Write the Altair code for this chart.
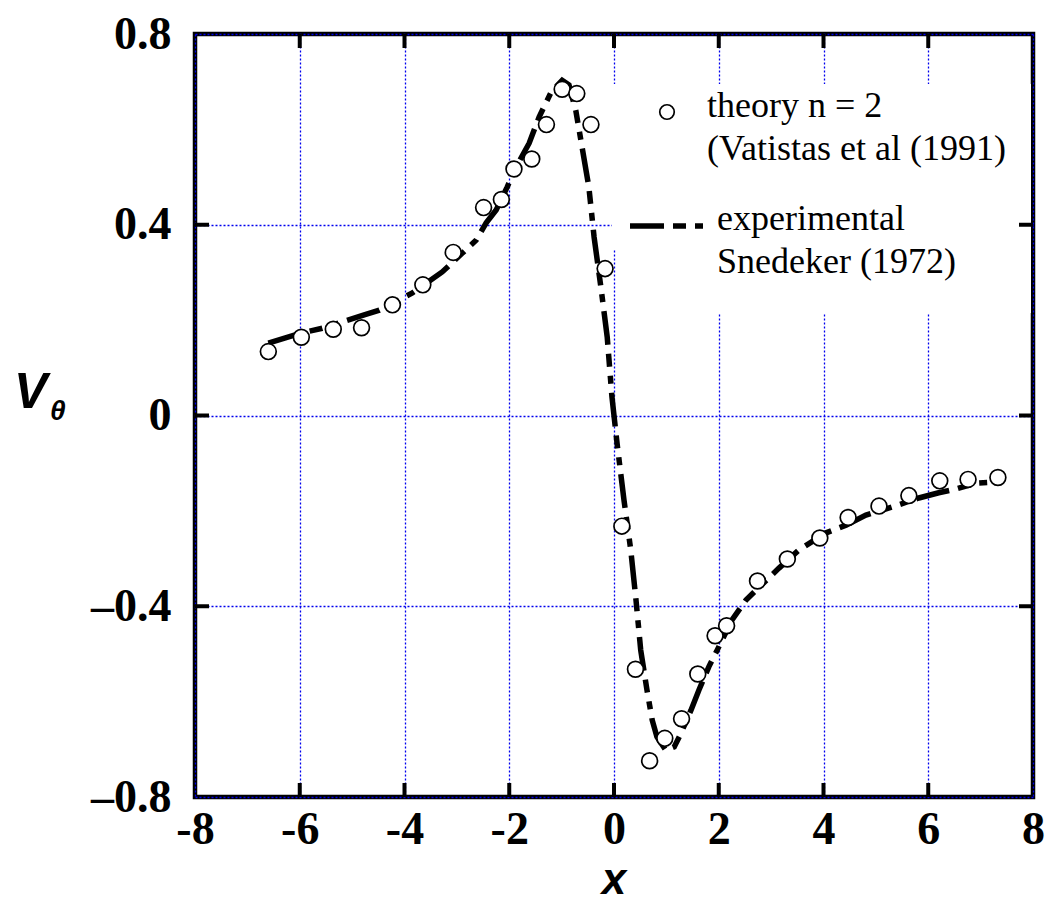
import altair as alt
import pandas as pd

# --- data -------------------------------------------------------------------
theory_x = [-6.60, -5.97, -5.36, -4.82, -4.23, -3.65, -3.07, -2.49, -2.15, -1.91,
            -1.57, -1.29, -0.99, -0.71, -0.44, -0.17, 0.15, 0.41, 0.68, 0.97,
            1.29, 1.60, 1.93, 2.15, 2.74, 3.31, 3.93, 4.47, 5.06, 5.63,
            6.22, 6.76, 7.33]
theory_y = [0.134, 0.164, 0.181, 0.184, 0.232, 0.274, 0.342, 0.436, 0.453, 0.517,
            0.538, 0.610, 0.684, 0.675, 0.610, 0.308, -0.232, -0.532, -0.724, -0.677,
            -0.636, -0.542, -0.462, -0.441, -0.347, -0.301, -0.257, -0.214, -0.190, -0.168,
            -0.137, -0.134, -0.130]

exp_x = [-6.60, -5.97, -5.57, -4.77, -4.48, -3.85, -3.28, -2.90, -2.63, -2.44,
         -2.25, -2.04, -1.87, -1.62, -1.43, -1.20, -0.99, -0.86, -0.73, -0.61,
         -0.48, -0.38, -0.25, -0.13, -0.04, 0.06, 0.19, 0.32, 0.42, 0.51,
         0.63, 0.73, 0.82, 0.99, 1.15, 1.28, 1.47, 1.62, 1.81, 1.97,
         2.25, 2.52, 2.77, 3.15, 3.53, 4.05, 4.43, 4.81, 5.31, 5.82,
         6.20, 6.53, 6.91, 7.35]
exp_y = [0.152, 0.173, 0.183, 0.211, 0.221, 0.257, 0.301, 0.340, 0.368, 0.404,
         0.431, 0.479, 0.521, 0.571, 0.626, 0.678, 0.703, 0.693, 0.640, 0.563,
         0.479, 0.374, 0.269, 0.165, 0.040, -0.060, -0.177, -0.282, -0.387, -0.492,
         -0.576, -0.639, -0.674, -0.702, -0.695, -0.666, -0.618, -0.576, -0.527, -0.492,
         -0.429, -0.387, -0.360, -0.320, -0.282, -0.246, -0.230, -0.209, -0.192, -0.173,
         -0.162, -0.154, -0.142, -0.139]

x_ticks = [-8, -6, -4, -2, 0, 2, 4, 6, 8]
y_ticks = [-0.8, -0.4, 0, 0.4, 0.8]
x_inner = [-6, -4, -2, 0, 2, 4, 6]
y_inner = [-0.4, 0, 0.4]

legend_theory = ["theory n = 2", "(Vatistas et al (1991)"]
legend_exp = ["experimental", "Snedeker (1972)"]

# --- layout -----------------------------------------------------------------
W, H = 838, 763
TICK = 14
SERIF = "Liberation Serif"
SANS = "Liberation Sans"
GRID = "#0000ee"

xs = alt.Scale(domain=[-8, 8], nice=False, zero=False)
ys = alt.Scale(domain=[-0.8, 0.8], nice=False, zero=False)

x_axis = alt.Axis(values=x_ticks, title=None, domain=False, ticks=False,
                  labelFont=SERIF, labelFontWeight="bold", labelFontSize=46,
                  labelColor="black", labelPadding=10, labelFlush=False,
                  labelOverlap=False,
                  labelExpr="replace(datum.label, '\u2212', '-')",
                  grid=True, gridColor=GRID, gridDash=[2, 2], gridWidth=1.3,
                  gridOpacity=1)
y_axis = alt.Axis(values=y_ticks, title=None, domain=False, ticks=False,
                  labelFont=SERIF, labelFontWeight="bold", labelFontSize=46,
                  labelColor="black", labelPadding=24, labelFlush=False,
                  labelOverlap=False,
                  labelExpr="datum.value == 0 ? '0' : replace(format(datum.value, '.1f'), '\u2212', '\u2013')",
                  grid=True, gridColor=GRID, gridDash=[2, 2], gridWidth=1.3,
                  gridOpacity=1)


def X(field):
    return alt.X(f"{field}:Q", scale=xs, axis=x_axis)


def Y(field):
    return alt.Y(f"{field}:Q", scale=ys, axis=y_axis)


df_theory = pd.DataFrame({"x": theory_x, "y": theory_y})
df_exp = pd.DataFrame({"x": exp_x, "y": exp_y, "o": range(len(exp_x))})
df_xt = pd.DataFrame({"x": x_inner})
df_yt = pd.DataFrame({"y": y_inner})

# legend background boxes (covering the grid like the original)
box_a = alt.Chart(pd.DataFrame({"k": [0]})).mark_rect(color="white").encode(
    x=alt.value(417), x2=alt.value(836), y=alt.value(50), y2=alt.value(216))
box_b = alt.Chart(pd.DataFrame({"k": [0]})).mark_rect(color="white").encode(
    x=alt.value(500), x2=alt.value(836), y=alt.value(215), y2=alt.value(279))

line = alt.Chart(df_exp).mark_line(
    color="black", strokeWidth=5.5, strokeDash=[34, 9, 13, 9, 8, 9],
    strokeCap="butt", interpolate="linear").encode(
    x=X("x"), y=Y("y"), order="o:Q")

points = alt.Chart(df_theory).mark_point(
    shape="circle", filled=True, fill="white", stroke="black",
    strokeWidth=1.7, size=250, opacity=1, fillOpacity=1, strokeOpacity=1).encode(
    x=X("x"), y=Y("y"))

# inward ticks on all four sides
tick_bottom = alt.Chart(df_xt).mark_rule(color="black", strokeWidth=4).encode(
    x=X("x"), y=alt.value(H), y2=alt.value(H - TICK))
tick_top = alt.Chart(df_xt).mark_rule(color="black", strokeWidth=4).encode(
    x=X("x"), y=alt.value(0), y2=alt.value(TICK))
tick_left = alt.Chart(df_yt).mark_rule(color="black", strokeWidth=4).encode(
    y=Y("y"), x=alt.value(0), x2=alt.value(TICK))
tick_right = alt.Chart(df_yt).mark_rule(color="black", strokeWidth=4).encode(
    y=Y("y"), x=alt.value(W), x2=alt.value(W - TICK))

# legend
leg_circle = alt.Chart(pd.DataFrame({"k": [0]})).mark_point(
    shape="circle", filled=True, fill="white", stroke="black",
    strokeWidth=1.7, size=210, opacity=1).encode(
    x=alt.value(472), y=alt.value(78))
leg_line = alt.Chart(pd.DataFrame({"k": [0]})).mark_rule(
    color="black", strokeWidth=5.5, strokeDash=[34, 9, 13, 9, 8, 9],
    strokeCap="butt").encode(
    x=alt.value(435), x2=alt.value(508), y=alt.value(192))


def text_at(s, x, y, size=36, font=SERIF, weight="normal", style="normal",
            align="left"):
    return alt.Chart(pd.DataFrame({"t": [s]})).mark_text(
        font=font, fontSize=size, fontWeight=weight, fontStyle=style,
        align=align, baseline="alphabetic", color="black").encode(
        text="t:N", x=alt.value(x), y=alt.value(y))


leg_t1 = text_at(legend_theory[0], 512, 83)
leg_t2 = text_at(legend_theory[1], 512, 126)
leg_e1 = text_at(legend_exp[0], 522, 196)
leg_e2 = text_at(legend_exp[1], 522, 239)

# axis titles
title_x = text_at("x", W / 2, 860, size=44, font=SANS, weight="bold",
                  style="italic", align="center")
title_v = text_at("V", -181, 374, size=50, font=SANS, weight="bold",
                  style="italic")
title_th = text_at("\u03b8", -145, 386, size=28, font=SANS, weight="bold",
                   style="italic")

chart = alt.layer(
    box_a, box_b, line, points,
    tick_bottom, tick_top, tick_left, tick_right,
    leg_line, leg_circle, leg_t1, leg_t2, leg_e1, leg_e2,
    title_x, title_v, title_th,
).properties(
    width=W, height=H,
    autosize=alt.AutoSizeParams(type="none"),
    padding={"left": 195, "top": 34, "right": 23, "bottom": 127},
    background="white",
).configure_view(
    stroke="black", strokeWidth=4.5
)

chart.save("out.html", embed_options={"renderer": "svg", "actions": False})
